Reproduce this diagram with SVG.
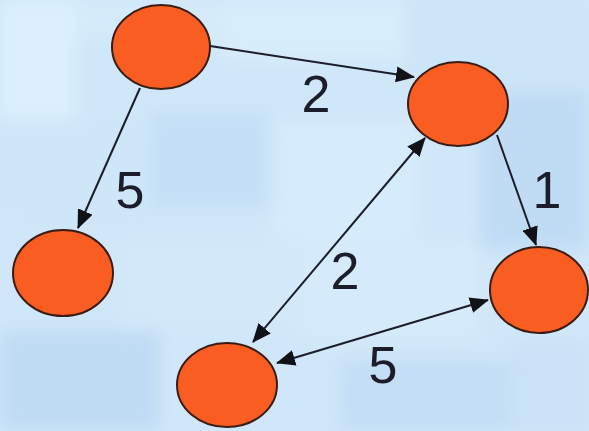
<svg xmlns="http://www.w3.org/2000/svg" width="589" height="431" viewBox="0 0 589 431">
  <style>
    .node { fill: #f95d22; stroke: #3b1c14; stroke-width: 2; }
    .edge { stroke: #1b1d2a; stroke-width: 2; fill: none; }
    .one-way { marker-end: url(#arrow); }
    .two-way { marker-start: url(#arrow); marker-end: url(#arrow); }
    .weight { font-family: "Liberation Sans", Arial, sans-serif; font-size: 52px; fill: #1b1d2a; text-anchor: middle; }
  </style>
  <defs>
    <marker id="arrow" markerUnits="userSpaceOnUse" markerWidth="20" markerHeight="16" viewBox="0 0 20 16" refX="18" refY="8" orient="auto-start-reverse">
      <path d="M0,0 L19,8 L0,16 z" fill="#111118"/>
    </marker>
    <filter id="soft" x="-10%" y="-10%" width="120%" height="120%">
      <feGaussianBlur stdDeviation="8"/>
    </filter>
  </defs>

  <!-- mottled blue backdrop -->
  <g id="backdrop">
    <rect width="589" height="431" fill="#d0e7f9"/>
    <g filter="url(#soft)">
      <rect x="0" y="0" width="75" height="120" fill="#dcEFfc"/>
      <rect x="75" y="0" width="150" height="40" fill="#d5ebfa"/>
      <rect x="225" y="0" width="180" height="60" fill="#d8edfb"/>
      <rect x="405" y="0" width="184" height="90" fill="#cde5f8"/>
      <rect x="0" y="120" width="150" height="110" fill="#cee6f8"/>
      <rect x="150" y="110" width="120" height="100" fill="#c5e0f6"/>
      <rect x="270" y="120" width="150" height="120" fill="#d6ebfb"/>
      <rect x="480" y="90" width="109" height="160" fill="#c0dcf4"/>
      <rect x="0" y="330" width="160" height="101" fill="#c0dcf4"/>
      <rect x="120" y="240" width="180" height="90" fill="#d3e9f9"/>
      <rect x="340" y="360" width="170" height="71" fill="#c3def5"/>
      <rect x="510" y="340" width="79" height="91" fill="#c9e2f7"/>
      <rect x="300" y="240" width="180" height="100" fill="#d5eafa"/>
    </g>
  </g>

  <g id="connectors">
    <line class="edge one-way" x1="210" y1="46" x2="414" y2="77"/>
    <line class="edge one-way" x1="140" y1="88" x2="78" y2="228"/>
    <line class="edge one-way" x1="497" y1="135" x2="536" y2="245"/>
    <line class="edge two-way" x1="425" y1="138" x2="253" y2="342"/>
    <line class="edge two-way" x1="277" y1="363" x2="488" y2="300"/>
  </g>

  <g id="labels">
    <text class="weight" x="316" y="112">2</text>
    <text class="weight" x="130" y="208">5</text>
    <text class="weight" x="547" y="208">1</text>
    <text class="weight" x="345" y="289">2</text>
    <text class="weight" x="383" y="383">5</text>
  </g>

  <g id="node-a"><ellipse class="node" cx="161" cy="47" rx="49" ry="42"/></g>
  <g id="node-b"><ellipse class="node" cx="458" cy="104" rx="50" ry="42"/></g>
  <g id="node-c"><ellipse class="node" cx="63" cy="273" rx="50" ry="43"/></g>
  <g id="node-d"><ellipse class="node" cx="227" cy="385" rx="50" ry="42"/></g>
  <g id="node-e"><ellipse class="node" cx="539" cy="290" rx="49" ry="43"/></g>
</svg>
